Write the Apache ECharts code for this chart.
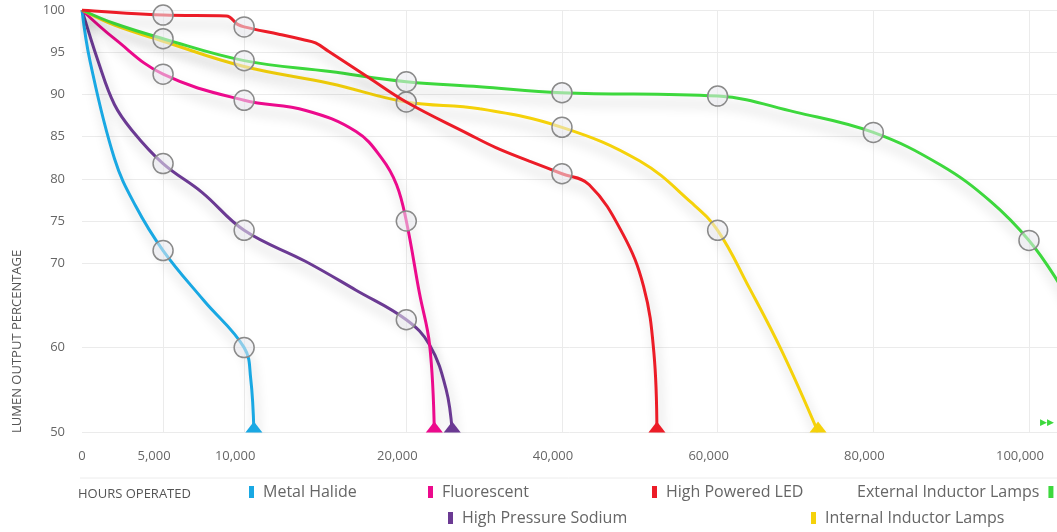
<!DOCTYPE html>
<html><head><meta charset="utf-8">
<script src="https://cdn.jsdelivr.net/npm/echarts@6/dist/echarts.min.js"></script>
<style>html,body{margin:0;padding:0;background:#fff}#c{width:1057px;height:532px}</style>
</head><body><div id="c"></div><script>
// ---- data ----
const tickHours = [0, 5000, 10000, 20000, 40000, 60000, 80000, 100000];
const yTicks = [50, 60, 70, 75, 80, 85, 90, 95, 100];
const names = ['Metal Halide', 'Fluorescent', 'High Powered LED', 'External Inductor Lamps', 'High Pressure Sodium', 'Internal Inductor Lamps'];
const colors = ['#19a8e3', '#ec0a8c', '#ec1c27', '#3dd83d', '#6b3a93', '#f5d20a'];

const metalHalide = [[0,100],[500,93.9],[2000,82.4],[3300,76.8],[5000,71.5],[7500,65.6],[10000,60],[10400,56.4],[10600,50]];
const fluorescent = [[0,100],[2000,96.6],[5000,92.4],[10000,89.3],[13800,88.1],[16900,85.6],[18500,82.4],[19400,79.3],[20000,75],[21700,66.4],[23000,60.3],[23600,50]];
const highPoweredLED = [[0,100],[5000,99.4],[8900,99.3],[9600,98.3],[10000,98.0],[12200,97.1],[13600,96.5],[14400,96.1],[15200,95.1],[17600,92.1],[20000,89.1],[28000,85.3],[31500,83.7],[35800,82.1],[40000,80.6],[43500,79.3],[47800,73.5],[50500,67.2],[51800,59.5],[52200,50]];
const externalInductor = [[0,100],[2000,98.4],[5000,96.6],[10000,94.0],[15300,92.7],[20000,91.5],[29400,90.9],[40000,90.2],[60000,89.8],[70000,87.9],[80000,85.5],[88700,81.6],[95100,77.3],[100000,72.7],[103600,68.0],[106000,64.0]];
const highPressureSodium = [[0,100],[1000,93.9],[2000,88.8],[3100,85.7],[5000,81.8],[7400,78.4],[10000,73.9],[13800,70.2],[16900,66.8],[20000,63.3],[23000,60.3],[25100,55.1],[25900,50]];
const internalInductor = [[0,100],[2000,98.2],[5000,96.3],[10000,93.3],[15300,91.3],[20000,89.1],[29400,88.3],[40000,86.1],[50000,82.1],[56600,77.2],[60000,73.9],[64000,67.2],[68300,59.5],[72900,50]];

const metalHalideMarks = [5000, 10000];
const fluorescentMarks = [5000, 10000, 20000];
const ledMarks = [5000, 10000, 40000];
const externalMarks = [5000, 10000, 20000, 40000, 60000, 80000, 100000];
const sodiumMarks = [5000, 10000, 20000];
const internalMarks = [20000, 40000, 60000];

// ---- broken hours scale: linear up to 20,000, compressed after ----
const BREAK = 20000, COMPRESS = 0.48, MAX_HOURS = 103600;
function toUnits(h) { return h <= BREAK ? h : BREAK + (h - BREAK) * COMPRESS; }
function toHours(u) { return u <= BREAK ? u : BREAK + (u - BREAK) / COMPRESS; }

const FONT = '"Open Sans", "DejaVu Sans", sans-serif';

function build(idx, pts, marks, z) {
  const color = colors[idx];
  const data = pts.map(([h, v]) => {
    const item = { value: [toUnits(h), v] };
    if (marks.includes(h)) {
      item.symbol = 'circle';
      item.symbolSize = 20;
      item.itemStyle = { color: 'rgba(234,234,238,0.55)', borderColor: '#8a8a8a', borderWidth: 1.5 };
    } else if (v === 50) {
      item.symbol = 'triangle';
      item.symbolSize = [17, 11];
      item.symbolOffset = [0, -5];
      item.itemStyle = { color: color };
    }
    return item;
  });
  return {
    type: 'line', name: names[idx], data: data, z: z,
    smooth: 0.4,
    symbol: 'none', showSymbol: true, clip: true,
    lineStyle: { color: color, width: 3, shadowColor: 'rgba(0,0,0,0.22)', shadowBlur: 12, shadowOffsetY: 9, shadowOffsetX: 3 },
    itemStyle: { color: color },
    emphasis: { disabled: true }
  };
}

const legendPos = [
  { left: 249, top: 484 }, { left: 428, top: 484 }, { left: 652, top: 484 },
  { left: 857, top: 484 }, { left: 448, top: 510 }, { left: 811, top: 510 }
];

const chart = echarts.init(document.getElementById('c'));
chart.setOption({
  animation: false,
  grid: { left: 82, right: 0, top: 10, bottom: 100 },
  xAxis: {
    type: 'value', min: 0, max: toUnits(MAX_HOURS),
    axisLine: { show: false },
    axisTick: { show: false, customValues: tickHours.slice(1).map(toUnits) },
    splitLine: { show: true, lineStyle: { color: '#ebebeb', width: 1 } },
    axisLabel: {
      customValues: tickHours.map(toUnits), margin: 18,
      formatter: function (v) {
        const h = Math.round(toHours(v) / 100) * 100;
        if (h === 0) return '{z|0}';
        return '{n|' + h.toLocaleString('en-US') + '}';
      },
      rich: {
        z: { color: '#666', fontSize: 13, fontFamily: FONT },
        n: { color: '#666', fontSize: 13, fontFamily: FONT, padding: [0, 18, 0, 0] }
      }
    }
  },
  yAxis: {
    type: 'value', min: 50, max: 100,
    axisLine: { show: false },
    axisTick: { show: false, customValues: yTicks },
    splitLine: { show: true, lineStyle: { color: '#ebebeb', width: 1 } },
    axisLabel: { customValues: yTicks, color: '#666', fontSize: 13, fontFamily: FONT, margin: 17 }
  },
  legend: names.map((n, i) => ({
    data: [n], left: legendPos[i].left, top: legendPos[i].top, padding: 0,
    icon: 'rect', itemWidth: 5, itemHeight: 12, selectedMode: false,
    align: i === 3 ? 'right' : 'left',
    textStyle: { color: '#666', fontSize: 16, fontFamily: FONT, padding: i === 3 ? [0, 4, 0, 0] : [0, 0, 0, 4] }
  })),
  graphic: [
    { type: 'text', x: 17, y: 433, rotation: Math.PI / 2, silent: true,
      style: { text: 'LUMEN OUTPUT PERCENTAGE', fill: '#555', font: '13px ' + FONT, textAlign: 'left', textVerticalAlign: 'middle' } },
    { type: 'text', x: 78, y: 494, silent: true,
      style: { text: 'HOURS OPERATED', fill: '#555', font: '13px ' + FONT, textAlign: 'left', textVerticalAlign: 'middle' } },
    { type: 'line', silent: true, shape: { x1: 80, y1: 478, x2: 1057, y2: 478 }, style: { stroke: '#ececec', lineWidth: 1 } },
    { type: 'text', x: 1040, y: 423, silent: true,
      style: { text: '\u25B6\u25B6', fill: colors[3], font: '9px "DejaVu Sans"', textAlign: 'left', textVerticalAlign: 'middle' } }
  ],
  series: [
    build(4, highPressureSodium, sodiumMarks, 2),
    build(0, metalHalide, metalHalideMarks, 3),
    build(1, fluorescent, fluorescentMarks, 4),
    build(5, internalInductor, internalMarks, 5),
    build(3, externalInductor, externalMarks, 6),
    build(2, highPoweredLED, ledMarks, 7)
  ]
});
</script></body></html>
